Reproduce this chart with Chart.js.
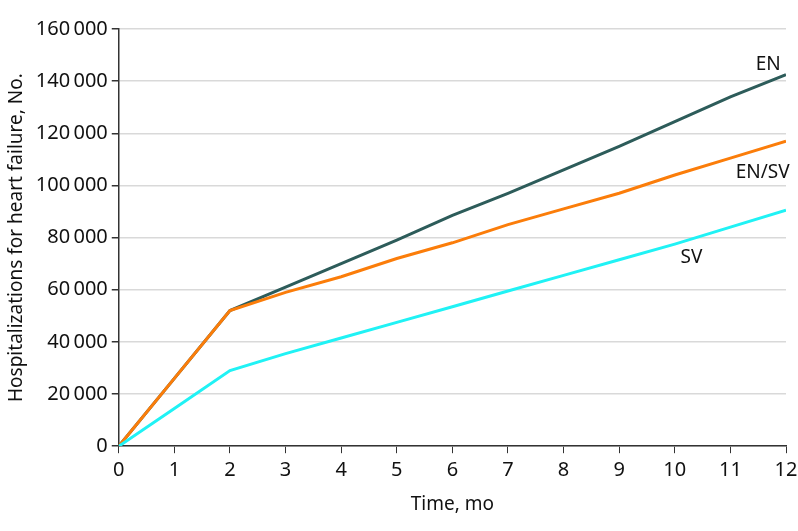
<!DOCTYPE html>
<html>
<head>
<meta charset="utf-8">
<script src="https://cdn.jsdelivr.net/npm/chart.js@4.4.0/dist/chart.umd.min.js"></script>
<style>
  html, body { margin: 0; padding: 0; background: #fff; }
  #wrap { width: 798px; height: 531px; }
</style>
</head>
<body>
<div id="wrap"><canvas id="hf_chart"></canvas></div>
<script>
const months = [0, 1, 2, 3, 4, 5, 6, 7, 8, 9, 10, 11, 12];
const enValues = [0, 26000, 52000, 61000, 70000, 79000, 88500, 97000, 106000, 115000, 124500, 134000, 142500];
const enSvValues = [0, 26000, 52000, 59000, 65000, 72000, 78000, 85000, 91000, 97000, 104000, 110500, 117000];
const svValues = [0, 14500, 29000, 35500, 41500, 47500, 53500, 59500, 65500, 71500, 77500, 84000, 90500];
const seriesNames = ["EN", "EN/SV", "SV"];
// where each name sits, in data units
const labelSpots = [[11.68, 146500], [11.58, 105000], [10.3, 72500]];

const fontFamily = "'Noto Sans', 'Open Sans', sans-serif";

const lineLabels = {
    id: 'lineLabels',
    afterDatasetsDraw(chart) {
        const ctx = chart.ctx;
        const xs = chart.scales.x;
        const ys = chart.scales.y;
        ctx.save();
        ctx.font = "19px " + fontFamily;
        ctx.fillStyle = "#111";
        ctx.textAlign = "center";
        ctx.textBaseline = "middle";
        for (let i = 0; i < seriesNames.length; i++) {
            ctx.fillText(seriesNames[i], xs.getPixelForValue(labelSpots[i][0]), ys.getPixelForValue(labelSpots[i][1]));
        }
        ctx.restore();
    }
};

function mkData(vals) {
    return months.map((m, i) => ({ x: m, y: vals[i] }));
}

new Chart("hf_chart", {
    type: "line",
    data: {
        datasets: [
            { label: "EN", data: mkData(enValues), borderColor: "#2d5c5a", borderWidth: 3, pointRadius: 0, tension: 0, fill: false, order: 3 },
            { label: "EN/SV", data: mkData(enSvValues), borderColor: "#fb7d0a", borderWidth: 3, pointRadius: 0, tension: 0, fill: false, order: 2 },
            { label: "SV", data: mkData(svValues), borderColor: "#20f2f5", borderWidth: 3, pointRadius: 0, tension: 0, fill: false, order: 1 }
        ]
    },
    options: {
        responsive: true,
        maintainAspectRatio: false,
        animation: false,
        layout: { padding: { top: 29, right: 0, left: 1, bottom: 11 } },
        plugins: {
            legend: { display: false },
            title: { display: false },
            tooltip: { enabled: false }
        },
        scales: {
            x: {
                type: "linear",
                min: 0,
                max: 12,
                afterFit: s => { s.paddingRight = 12; },
                ticks: { stepSize: 1, color: "#111", font: { family: fontFamily, size: 20 }, padding: 5 },
                grid: { color: "transparent", tickColor: "#333", tickLength: 7 },
                border: { color: "#333", width: 1.5 },
                title: { display: true, text: "Time, mo", color: "#111", font: { family: fontFamily, size: 19 }, padding: { top: 6 } }
            },
            y: {
                min: 0,
                max: 160000,
                ticks: {
                    stepSize: 20000,
                    color: "#111",
                    font: { family: fontFamily, size: 20 },
                    padding: 4,
                    callback: v => String(v).replace(/\B(?=(\d{3})+(?!\d))/g, "\u2009")
                },
                grid: { color: "#d9d9d9", lineWidth: 1.5, tickColor: "#333", tickLength: 7 },
                border: { color: "#333", width: 1.5 },
                title: { display: true, text: "Hospitalizations for heart failure, No.", color: "#111", font: { family: fontFamily, size: 19 }, padding: { bottom: 4 } }
            }
        }
    },
    plugins: [lineLabels]
});
</script>
</body>
</html>
